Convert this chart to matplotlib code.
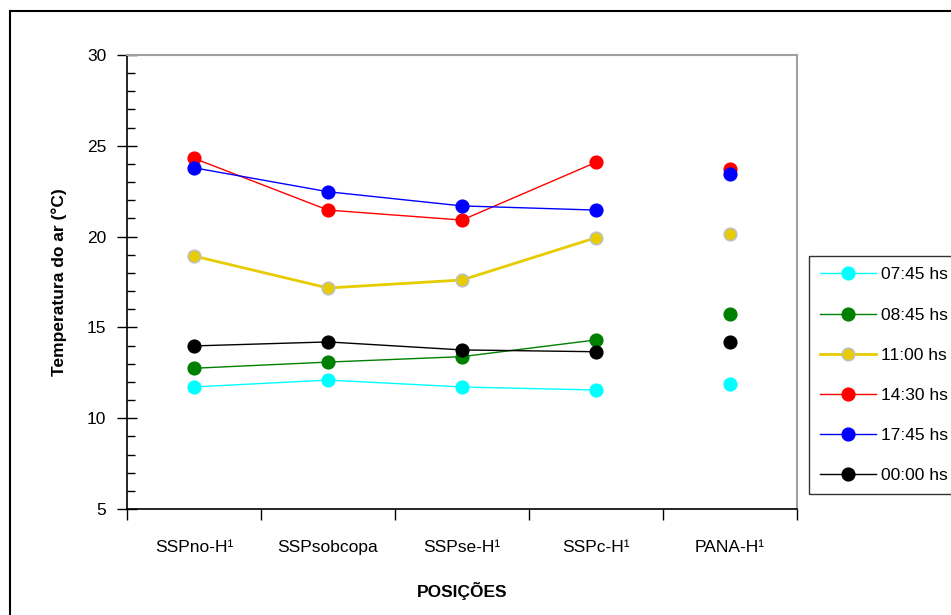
import matplotlib
matplotlib.use("Agg")
import matplotlib.pyplot as plt
import numpy as np
from matplotlib.patches import Rectangle

plt.rcParams['font.family'] = ['Liberation Sans', 'DejaVu Sans']

positions = ["SSPno-H¹", "SSPsobcopa", "SSPse-H¹", "SSPc-H¹", "PANA-H¹"]
labels = ["07:45 hs", "08:45 hs", "11:00 hs", "14:30 hs", "17:45 hs", "00:00 hs"]

t_0745 = [11.72, 12.10, 11.72, 11.55, 11.88]
t_0845 = [12.75, 13.09, 13.39, 14.31, 15.74]
t_1100 = [18.93, 17.17, 17.61, 19.94, 20.13]
t_1430 = [24.31, 21.46, 20.91, 24.09, 23.71]
t_1745 = [23.79, 22.47, 21.69, 21.46, 23.45]
t_0000 = [13.98, 14.20, 13.76, 13.66, 14.20]

series = [t_0745, t_0845, t_1100, t_1430, t_1745, t_0000]
line_colors = ["#00FFFF", "#008000", "#E6CC00", "#FF0000", "#0000FF", "#000000"]
face_colors = ["#00FFFF", "#008000", "#E6CC00", "#FF0000", "#0000FF", "#000000"]
edge_colors = ["#00FFFF", "#008000", "#C0C0C0", "#FF0000", "#0000FF", "#000000"]
line_widths = [1.0, 1.0, 2.0, 1.0, 1.0, 1.0]

FS = 12.5

fig = plt.figure(figsize=(9.51, 6.15), dpi=100)
ax = fig.add_axes([127/951, 1-509/615, (797-127)/951, (509-55)/615])

x = np.arange(len(positions))
n_connected = 4  # the last position is shown as isolated points
handles = []
for vals, lc, fc, ec, lw, lab in zip(series, line_colors, face_colors, edge_colors, line_widths, labels):
    v = np.array(vals)
    ax.plot(x[:n_connected], v[:n_connected], color=lc, lw=lw, zorder=2)
    ax.plot(x, v, ls="none", marker="o", ms=9, mfc=fc, mec=ec, mew=1.2, zorder=3)
    h, = ax.plot([], [], color=lc, lw=lw, marker="o", ms=9, mfc=fc, mec=ec, mew=1.2)
    handles.append(h)

ax.set_xlim(-0.5, len(positions) - 0.5)
ax.set_ylim(5, 30)
ax.set_xticks(np.arange(-0.5, len(positions), 1.0))
ax.set_xticklabels([])
ax.set_xticks(x, minor=True)
ax.set_xticklabels(positions, minor=True, fontsize=FS)
ax.tick_params(axis="x", which="major", direction="out", length=8, width=1, color="black")
ax.tick_params(axis="x", which="minor", length=0, pad=22)

ax.set_yticks(np.arange(5, 31, 5))
ax.set_yticks(np.arange(5, 31, 1), minor=True)
ax.tick_params(axis="y", which="major", direction="inout", length=14, width=1, labelsize=FS, pad=8)
ax.tick_params(axis="y", which="minor", direction="in", length=6, width=1)

for side in ("top", "right"):
    ax.spines[side].set_color("#A0A0A0")
    ax.spines[side].set_linewidth(1.5)
for side in ("left", "bottom"):
    ax.spines[side].set_color("black")
    ax.spines[side].set_linewidth(1.2)

ax.set_ylabel("Temperatura do ar (°C)", fontsize=FS, fontweight="bold", labelpad=14)
ax.set_xlabel("POSIÇÕES", fontsize=FS, fontweight="bold", labelpad=20)

leg = fig.legend(handles, labels, loc="upper left", bbox_to_anchor=(809/951, 1-256/615),
                 frameon=True, fancybox=False, edgecolor="black", fontsize=FS,
                 handlelength=3.2, labelspacing=1.44, borderpad=0.65, handletextpad=0.3,
                 borderaxespad=0)
leg.get_frame().set_linewidth(1.0)

# outer chart border
fig.add_artist(Rectangle((10/951, -0.1), 1.2, 1-11/615+0.1, transform=fig.transFigure,
                         fill=False, edgecolor="black", lw=1.5))

fig.savefig("out.png", dpi=100)
